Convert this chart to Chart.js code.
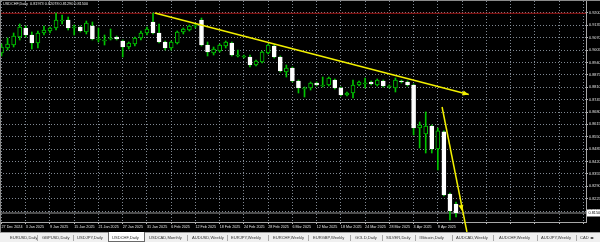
<!DOCTYPE html>
<html>
<head>
<meta charset="utf-8">
<script src="https://cdn.jsdelivr.net/npm/chart.js@4.4.1/dist/chart.umd.min.js"></script>
<style>
html, body { margin: 0; padding: 0; background: #f0f0f0; }
#wrap { position: relative; width: 600px; height: 242px; overflow: hidden; font-family: "Liberation Sans", Arial, sans-serif; }
#chart { position: absolute; left: 0; top: 0; background: #000; }
#frame { position: absolute; left: 0; top: 0; width: 600px; height: 232px; border-top: 1px solid #8a8a8a; border-left: 1px solid #8a8a8a; box-sizing: border-box; pointer-events: none; }
#title { position: absolute; left: 3px; top: 1.5px; font-size: 3.8px; color: #e6e6e6; white-space: pre; }
#tabs { position: absolute; left: 0; top: 232px; width: 600px; height: 10px; background: #f0f0f0; border-top: 1px solid #a0a0a0; box-sizing: border-box; }
.tab { position: absolute; top: 2.2px; font-size: 4.1px; color: #333; white-space: nowrap; font-family: "Liberation Sans Narrow", "Liberation Sans", Arial, sans-serif; }
.sep { position: absolute; top: 2px; width: 1px; height: 6px; background: #a8a8a8; }
.active { position: absolute; top: -1px; left: 108px; width: 37px; height: 10px; background: #fff; border: 1px solid #6a6a6a; border-top: none; box-sizing: border-box; }
.nav { position: absolute; top: 1.5px; font-size: 4px; color: #222; font-family: "DejaVu Sans", sans-serif; }
</style>
</head>
<body>
<div id="wrap">
  <canvas id="chart" width="600" height="232"></canvas>
  <div id="frame"></div>
  <div id="title"></div>
  <div id="tabs">
    <span class="tab" style="left:10px">EURUSD,Daily</span><span class="sep" style="left:37px"></span>
    <span class="tab" style="left:42px">GBPUSD,Daily</span><span class="sep" style="left:73px"></span>
    <span class="tab" style="left:77px">USDJPY,Daily</span>
    <span class="active"></span>
    <span class="tab" style="left:112px">USDCHF,Daily</span>
    <span class="tab" style="left:149px">USDCAD,Monthly</span><span class="sep" style="left:187px"></span>
    <span class="tab" style="left:192px">AUDUSD,Weekly</span><span class="sep" style="left:227px"></span>
    <span class="tab" style="left:231px">EURJPY,Weekly</span><span class="sep" style="left:268px"></span>
    <span class="tab" style="left:273px">EURCHF,Weekly</span><span class="sep" style="left:308px"></span>
    <span class="tab" style="left:313px">EURGBP,Weekly</span><span class="sep" style="left:350px"></span>
    <span class="tab" style="left:355px">GOLD,Daily</span><span class="sep" style="left:382px"></span>
    <span class="tab" style="left:386px">SILVER,Daily</span><span class="sep" style="left:415px"></span>
    <span class="tab" style="left:419px">#Bitcoin,Daily</span><span class="sep" style="left:452px"></span>
    <span class="tab" style="left:456px">AUDCAD,Weekly</span><span class="sep" style="left:493px"></span>
    <span class="tab" style="left:499px">AUDCHF,Weekly</span><span class="sep" style="left:537px"></span>
    <span class="tab" style="left:541px">AUDJPY,Weekly</span><span class="sep" style="left:576px"></span>
    <span class="tab" style="left:580px">CAD</span>
    <span class="nav" style="left:590px">◂▸</span>
  </div>
</div>
<script>
// USDCHF daily, 27 Dec 2024 .. 14 Apr 2025
const dates = ['27 Dec 2024', '3 Jan 2025', '9 Jan 2025', '15 Jan 2025', '21 Jan 2025', '27 Jan 2025',
  '31 Jan 2025', '6 Feb 2025', '12 Feb 2025', '18 Feb 2025', '24 Feb 2025', '28 Feb 2025', '6 Mar 2025',
  '12 Mar 2025', '18 Mar 2025', '24 Mar 2025', '28 Mar 2025', '3 Apr 2025', '9 Apr 2025']

const opens = [0.89900, 0.90163, 0.90320, 0.90740, 0.91213, 0.90845, 0.90425, 0.90950, 0.91055, 0.91213,
  0.91580, 0.91633, 0.91213, 0.91265, 0.91003, 0.91318, 0.90583, 0.90530, 0.90635, 0.90740,
  0.90530, 0.90215, 0.90373, 0.90688, 0.90950, 0.91528, 0.90950, 0.90478, 0.90163, 0.90425,
  0.91003, 0.91108, 0.91318, 0.91633, 0.90320, 0.89900, 0.90005, 0.90268, 0.90425, 0.89743,
  0.89690, 0.89690, 0.89270, 0.89428, 0.89900, 0.90268, 0.89690, 0.88903, 0.89113, 0.88430,
  0.88010, 0.88063, 0.88325, 0.88168, 0.88220, 0.88483, 0.88063, 0.87695, 0.87800, 0.88220,
  0.88273, 0.88378, 0.88220, 0.88430, 0.88115, 0.88063, 0.88430, 0.88378, 0.88220, 0.85963,
  0.85650, 0.86068, 0.84860, 0.85755, 0.82498, 0.81973]
const highs = [0.90373, 0.90688, 0.90950, 0.91423, 0.91318, 0.91003, 0.91055, 0.91318, 0.91265, 0.92000,
  0.91895, 0.91790, 0.91370, 0.91318, 0.91580, 0.91528, 0.91213, 0.90845, 0.91160, 0.90793,
  0.90583, 0.90478, 0.90740, 0.91055, 0.91265, 0.92000, 0.91423, 0.90530, 0.90530, 0.91055,
  0.91213, 0.91370, 0.91423, 0.91738, 0.90478, 0.90215, 0.90373, 0.90530, 0.90478, 0.90058,
  0.89795, 0.89795, 0.89533, 0.90005, 0.90373, 0.90320, 0.89743, 0.89270, 0.89165, 0.88483,
  0.88115, 0.88378, 0.88378, 0.88640, 0.88640, 0.88535, 0.88115, 0.87853, 0.88483, 0.88430,
  0.88588, 0.88430, 0.88535, 0.88483, 0.88220, 0.88588, 0.88483, 0.88430, 0.88273, 0.86278,
  0.86803, 0.86120, 0.85963, 0.85808, 0.82550, 0.82078]
const lows = [0.89743, 0.90058, 0.90215, 0.90583, 0.90740, 0.90110, 0.90163, 0.90845, 0.90950, 0.91108,
  0.91423, 0.91108, 0.90845, 0.91003, 0.90898, 0.90583, 0.90478, 0.90320, 0.90583, 0.90583,
  0.89690, 0.90110, 0.90268, 0.90583, 0.90845, 0.90898, 0.90425, 0.90058, 0.90058, 0.90373,
  0.90898, 0.91055, 0.91213, 0.90268, 0.89743, 0.89795, 0.89953, 0.90163, 0.89743, 0.89690,
  0.89638, 0.89165, 0.89218, 0.89375, 0.89848, 0.89638, 0.88903, 0.88640, 0.88378, 0.87800,
  0.87590, 0.87958, 0.88168, 0.88115, 0.88168, 0.88010, 0.87643, 0.87643, 0.87538, 0.88168,
  0.88063, 0.88220, 0.88168, 0.88115, 0.88063, 0.87853, 0.88325, 0.88168, 0.85598, 0.84913,
  0.84650, 0.84650, 0.83758, 0.82393, 0.81133, 0.81290]
const closes = [0.90215, 0.90373, 0.90793, 0.91265, 0.90845, 0.90425, 0.90950, 0.91108, 0.91213, 0.91633,
  0.91633, 0.91213, 0.91265, 0.91055, 0.91475, 0.90635, 0.90635, 0.90583, 0.90688, 0.90635,
  0.90215, 0.90425, 0.90688, 0.90950, 0.91160, 0.90950, 0.90478, 0.90163, 0.90478, 0.91003,
  0.91160, 0.91318, 0.91370, 0.90320, 0.89953, 0.90110, 0.90320, 0.90478, 0.89795, 0.89795,
  0.89743, 0.89270, 0.89480, 0.89953, 0.90320, 0.89690, 0.88955, 0.89113, 0.88430, 0.88063,
  0.88063, 0.88325, 0.88220, 0.88220, 0.88588, 0.88063, 0.87695, 0.87800, 0.88220, 0.88378,
  0.88325, 0.88273, 0.88483, 0.88168, 0.88168, 0.88483, 0.88378, 0.88220, 0.85963, 0.86120,
  0.86068, 0.84860, 0.85808, 0.82445, 0.81605, 0.81500]

const priceTicks = [0.92000, 0.91350, 0.90700, 0.90050, 0.89400, 0.88750, 0.88100, 0.87450, 0.86800,
  0.86150, 0.85500, 0.84850, 0.84200, 0.83550, 0.82900, 0.82250, 0.81600]

const redLevel = 0.91985
// hand-drawn trend lines: bar index / price
const trend1X = [25.3, 77.1]
const trend1Y = [0.92000, 0.87721]
const trend2X = [72.7, 76.8]
const trend2Y = [0.87065, 0.80502]
const arrow2 = [76.0, 0.81605]

const xMin = -0.25, xMax = 96.45
const yMin = 0.810275, yMax = 0.9263
const green = '#00c400'
const yellow = '#f2f000'
const gridColor = 'rgba(150,160,172,0.85)'

const n = closes.length
const lastClose = closes[n - 1]
const bull = closes.map((c, i) => c >= opens[i])

document.getElementById('title').textContent = 'USDCHF,Daily  ' +
  [opens[n - 1], highs[n - 1], lows[n - 1], closes[n - 1]].map(v => v.toFixed(5)).join(' ')

Chart.defaults.font.family = '"Liberation Sans", Arial, sans-serif'

function arrowHead(ctx, x0, y0, x1, y1, tx, ty) {
  const len = Math.hypot(x1 - x0, y1 - y0)
  const ux = (x1 - x0) / len, uy = (y1 - y0) / len
  ctx.beginPath()
  ctx.moveTo(tx, ty)
  ctx.lineTo(tx - ux * 6 - uy * 2.5, ty - uy * 6 + ux * 2.5)
  ctx.lineTo(tx - ux * 6 + uy * 2.5, ty - uy * 6 - ux * 2.5)
  ctx.closePath()
  ctx.fill()
}

const extras = {
  id: 'extras',
  afterDraw(chart) {
    const { ctx, scales: { x, y } } = chart
    ctx.save()
    ctx.fillStyle = yellow
    arrowHead(ctx, x.getPixelForValue(trend1X[0]), y.getPixelForValue(trend1Y[0]),
      x.getPixelForValue(trend1X[1]), y.getPixelForValue(trend1Y[1]),
      x.getPixelForValue(trend1X[1]), y.getPixelForValue(trend1Y[1]))
    arrowHead(ctx, x.getPixelForValue(trend2X[0]), y.getPixelForValue(trend2Y[0]),
      x.getPixelForValue(trend2X[1]), y.getPixelForValue(trend2Y[1]),
      x.getPixelForValue(arrow2[0]), y.getPixelForValue(arrow2[1]))
    // current price box on the price scale
    const py = y.getPixelForValue(lastClose)
    ctx.fillStyle = '#ffffff'
    ctx.fillRect(y.left + 1, py - 3.5, 14, 7)
    ctx.fillStyle = '#000000'
    ctx.font = '3.8px "Liberation Sans", Arial'
    ctx.textBaseline = 'middle'
    ctx.fillText(lastClose.toFixed(5), y.left + 2.5, py + 0.3)
    ctx.restore()
  }
}

new Chart(document.getElementById('chart').getContext('2d'), {
  type: 'bar',
  data: {
    datasets: [
      {
        type: 'line',
        data: [{ x: xMin, y: redLevel }, { x: xMax, y: redLevel }],
        borderColor: '#a01414',
        borderWidth: 1,
        pointRadius: 0,
        order: 5,
      },
      {
        type: 'line',
        data: [{ x: xMin, y: lastClose }, { x: xMax, y: lastClose }],
        borderColor: '#9a9a9a',
        borderWidth: 1,
        pointRadius: 0,
        order: 5,
      },
      {
        // wicks
        data: closes.map((c, i) => ({ x: i, y: [lows[i], highs[i]] })),
        backgroundColor: green,
        borderWidth: 0,
        barThickness: 1,
        grouped: false,
        order: 3,
      },
      {
        // bodies
        data: closes.map((c, i) => ({ x: i, y: [Math.min(opens[i], c), Math.max(opens[i], c)] })),
        backgroundColor: bull.map(b => b ? '#000000' : '#ffffff'),
        borderColor: bull.map(b => b ? green : '#ffffff'),
        borderWidth: 1,
        borderSkipped: false,
        barThickness: 4,
        minBarLength: 1,
        grouped: false,
        order: 2,
      },
      {
        type: 'line',
        data: trend1X.map((v, i) => ({ x: v, y: trend1Y[i] })),
        borderColor: yellow,
        borderWidth: 1.5,
        pointRadius: 0,
        order: 1,
      },
      {
        type: 'line',
        data: trend2X.map((v, i) => ({ x: v, y: trend2Y[i] })),
        borderColor: yellow,
        borderWidth: 1.5,
        pointRadius: 0,
        clip: false,
        order: 1,
      },
    ]
  },
  options: {
    responsive: false,
    animation: false,
    events: [],
    devicePixelRatio: 1,
    layout: { padding: { top: 1, left: 0, right: 0, bottom: 0 } },
    plugins: { legend: { display: false }, tooltip: { enabled: false } },
    scales: {
      x: {
        type: 'linear',
        min: xMin,
        max: xMax,
        offset: false,
        afterBuildTicks: s => {
          s.ticks = []
          for (let v = 0; v <= 96; v += 4) s.ticks.push({ value: v })
        },
        afterFit: s => { s.height = 10; s.paddingLeft = 0; s.paddingRight = 0 },
        ticks: {
          autoSkip: false,
          maxRotation: 0,
          minRotation: 0,
          align: 'start',
          padding: 1,
          color: '#e0e0e0',
          font: { size: 3.7 },
          callback: v => dates[v / 4] || '',
        },
        grid: { color: gridColor, lineWidth: 1, tickLength: 2, tickColor: '#bcbcbc', offset: false },
        border: { display: true, color: '#a8a8a8', width: 1, dash: [1, 2] },
      },
      y: {
        type: 'linear',
        position: 'right',
        min: yMin,
        max: yMax,
        afterBuildTicks: s => { s.ticks = priceTicks.map(v => ({ value: v })) },
        afterFit: s => { s.width = 14; s.paddingTop = 0; s.paddingBottom = 0 },
        ticks: {
          padding: 1,
          color: '#e0e0e0',
          font: { size: 3.8 },
          callback: v => v.toFixed(5),
        },
        grid: { color: gridColor, lineWidth: 1, tickLength: 2, tickColor: '#bcbcbc' },
        border: { display: true, color: '#a8a8a8', width: 1, dash: [1, 2] },
      }
    }
  },
  plugins: [extras]
})
</script>
</body>
</html>
